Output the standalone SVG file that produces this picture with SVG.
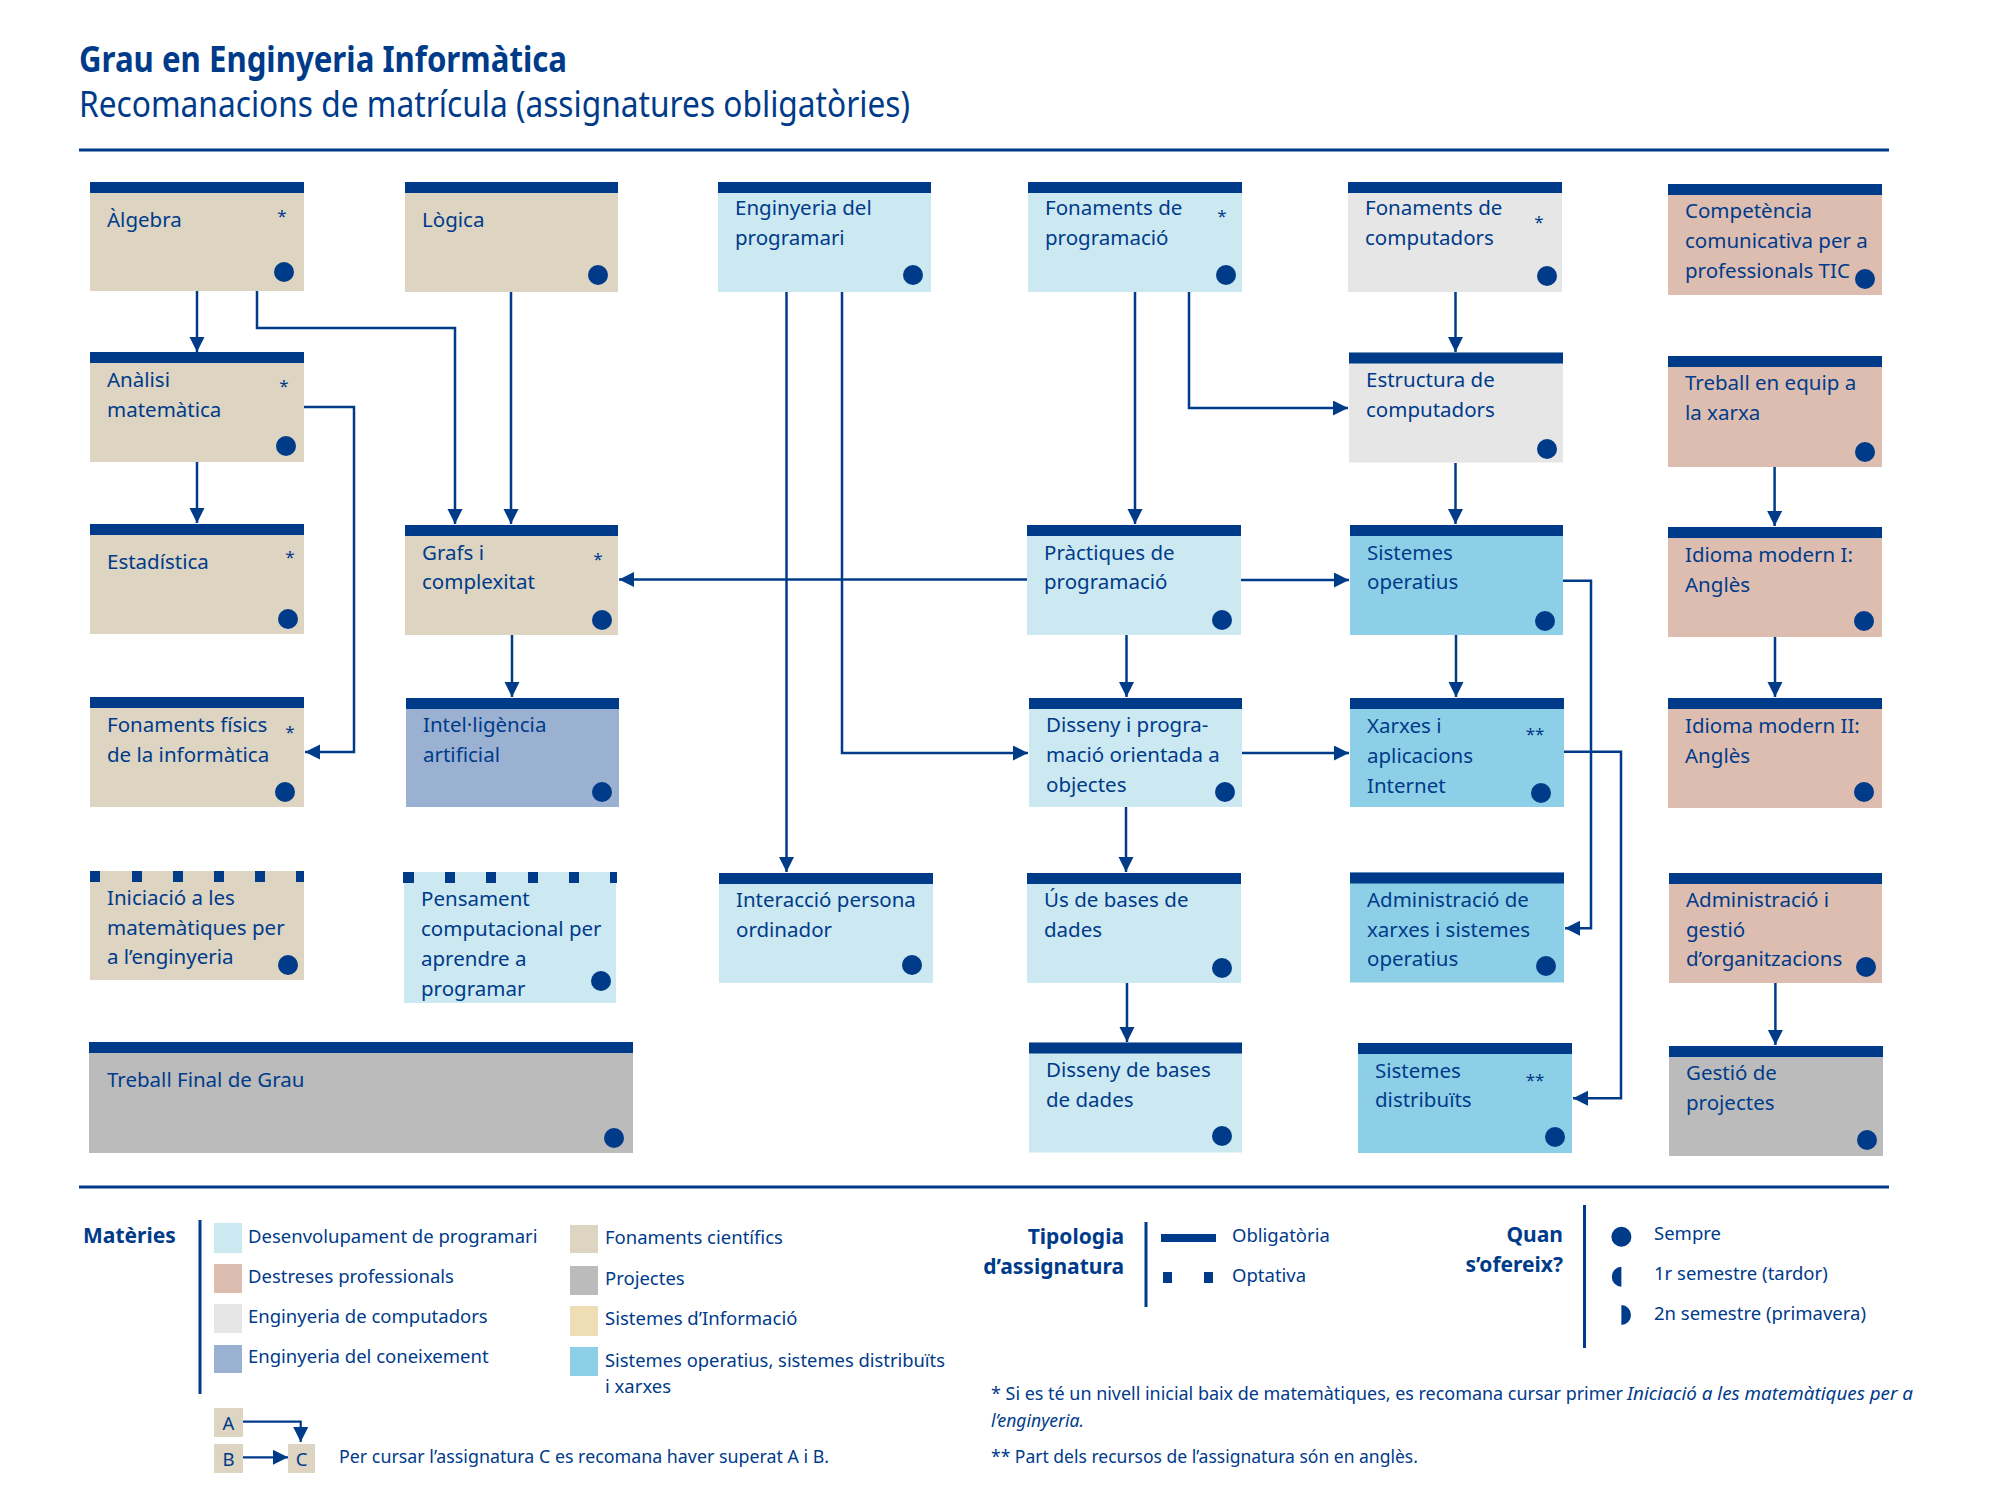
<svg xmlns="http://www.w3.org/2000/svg" width="2000" height="1500" viewBox="0 0 2000 1500">
<style>
.bg{fill:#ffffff}
.bar{fill:#003b8a}
.dot{fill:#003b8a}
.fci{fill:#ddd4c1}
.dpr{fill:#cce8f1}
.dst{fill:#ddbdb0}
.eco{fill:#e6e6e6}
.eck{fill:#9bb1d1}
.prj{fill:#bbbbbb}
.sin{fill:#eeddb5}
.sop{fill:#8dcfe6}
text{font-family:"Noto Sans","Liberation Sans",sans-serif;fill:#003b8a}
.t{font-size:20.5px}
.ast{font-size:17px;text-anchor:middle}
.lg{font-size:18.5px}
.lb{font-size:21px;font-weight:bold}
.fn{font-size:17.5px}
.it{font-style:italic}
.c{fill:none;stroke:#003b8a;stroke-width:2.5;marker-end:url(#ah)}
.ln{fill:none;stroke:#003b8a;stroke-width:3}
</style>
<defs>
<marker id="ah" markerUnits="userSpaceOnUse" markerWidth="16" markerHeight="16" refX="15" refY="7.5" orient="auto"><path d="M0,0 L15,7.5 L0,15 z" fill="#003b8a"/></marker>
</defs>
<rect class="bg" x="0" y="0" width="2000" height="1500"/>

<g id="header">
<text x="79" y="72" style="font-size:36px;font-weight:bold;font-stretch:condensed" textLength="488" lengthAdjust="spacingAndGlyphs">Grau en Enginyeria Informàtica</text>
<text x="79" y="117" style="font-size:36px;font-stretch:condensed" textLength="831" lengthAdjust="spacingAndGlyphs">Recomanacions de matrícula (assignatures obligatòries)</text>
<line class="ln" x1="79" y1="150" x2="1889" y2="150"/>
</g>

<g id="connectors">
<path class="c" d="M197,291 V352"/>
<path class="c" d="M257,291 V328 H455 V524"/>
<path class="c" d="M511,292 V524"/>
<path class="c" d="M197,462 V523"/>
<path class="c" d="M304,407 H354 V752 H305"/>
<path class="c" d="M512,635 V697"/>
<path class="c" d="M1027,579.5 H619"/>
<path class="c" d="M786.5,292 V872"/>
<path class="c" d="M842,292 V753 H1028"/>
<path class="c" d="M1135,292 V524"/>
<path class="c" d="M1189,292 V408 H1348"/>
<path class="c" d="M1455.5,292 V352"/>
<path class="c" d="M1455.5,463 V524"/>
<path class="c" d="M1241,580 H1349"/>
<path class="c" d="M1126.5,635 V697"/>
<path class="c" d="M1242,753 H1349"/>
<path class="c" d="M1126,807 V872"/>
<path class="c" d="M1127,983 V1042"/>
<path class="c" d="M1456,635 V697"/>
<path class="c" d="M1559,580.7 H1591 V928.3 H1565"/>
<path class="c" d="M1563,751.7 H1621 V1098.3 H1573"/>
<path class="c" d="M1774.6,467 V526"/>
<path class="c" d="M1775,637 V697"/>
<path class="c" d="M1775.4,983 V1045"/>
</g>

<g id="n-algebra">
<rect class="fci" x="90" y="182" width="214" height="109"/><rect class="bar" x="90" y="182" width="214" height="11"/>
<text class="t" x="107" y="227">Àlgebra</text><text class="ast" x="282" y="222">*</text>
<circle class="dot" cx="284" cy="272" r="10"/>
</g>
<g id="n-logica">
<rect class="fci" x="405" y="182" width="213" height="110"/><rect class="bar" x="405" y="182" width="213" height="11"/>
<text class="t" x="422" y="227">Lògica</text>
<circle class="dot" cx="598" cy="275" r="10"/>
</g>
<g id="n-enginyeria-programari">
<rect class="dpr" x="718" y="182" width="213" height="110"/><rect class="bar" x="718" y="182" width="213" height="11"/>
<text class="t" x="735" y="215">Enginyeria del<tspan x="735" dy="30">programari</tspan></text>
<circle class="dot" cx="913" cy="275" r="10"/>
</g>
<g id="n-fonaments-programacio">
<rect class="dpr" x="1028" y="182" width="214" height="110"/><rect class="bar" x="1028" y="182" width="214" height="11"/>
<text class="t" x="1045" y="215">Fonaments de<tspan x="1045" dy="30">programació</tspan></text><text class="ast" x="1222" y="222">*</text>
<circle class="dot" cx="1226" cy="275" r="10"/>
</g>
<g id="n-fonaments-computadors">
<rect class="eco" x="1348" y="182" width="214" height="110"/><rect class="bar" x="1348" y="182" width="214" height="11"/>
<text class="t" x="1365" y="215">Fonaments de<tspan x="1365" dy="30">computadors</tspan></text><text class="ast" x="1539" y="228">*</text>
<circle class="dot" cx="1547" cy="276" r="10"/>
</g>
<g id="n-competencia">
<rect class="dst" x="1668" y="184" width="214" height="111"/><rect class="bar" x="1668" y="184" width="214" height="11"/>
<text class="t" x="1685" y="218">Competència<tspan x="1685" dy="30">comunicativa per a</tspan><tspan x="1685" dy="30">professionals TIC</tspan></text>
<circle class="dot" cx="1865" cy="279" r="10"/>
</g>

<g id="n-analisi">
<rect class="fci" x="90" y="352" width="214" height="110"/><rect class="bar" x="90" y="352" width="214" height="11"/>
<text class="t" x="107" y="387">Anàlisi<tspan x="107" dy="30">matemàtica</tspan></text><text class="ast" x="284" y="392">*</text>
<circle class="dot" cx="286" cy="446" r="10"/>
</g>
<g id="n-estructura-computadors">
<rect class="eco" x="1349" y="352.5" width="214" height="110"/><rect class="bar" x="1349" y="352.5" width="214" height="11"/>
<text class="t" x="1366" y="387">Estructura de<tspan x="1366" dy="30">computadors</tspan></text>
<circle class="dot" cx="1547" cy="449" r="10"/>
</g>
<g id="n-treball-equip">
<rect class="dst" x="1668" y="356" width="214" height="111"/><rect class="bar" x="1668" y="356" width="214" height="11"/>
<text class="t" x="1685" y="390">Treball en equip a<tspan x="1685" dy="30">la xarxa</tspan></text>
<circle class="dot" cx="1865" cy="452" r="10"/>
</g>

<g id="n-estadistica">
<rect class="fci" x="90" y="524" width="214" height="110"/><rect class="bar" x="90" y="524" width="214" height="11"/>
<text class="t" x="107" y="569">Estadística</text><text class="ast" x="290" y="563">*</text>
<circle class="dot" cx="288" cy="619" r="10"/>
</g>
<g id="n-grafs">
<rect class="fci" x="405" y="525" width="213" height="110"/><rect class="bar" x="405" y="525" width="213" height="11"/>
<text class="t" x="422" y="560">Grafs i<tspan x="422" dy="29">complexitat</tspan></text><text class="ast" x="598" y="565">*</text>
<circle class="dot" cx="602" cy="620" r="10"/>
</g>
<g id="n-practiques">
<rect class="dpr" x="1027" y="525" width="214" height="110"/><rect class="bar" x="1027" y="525" width="214" height="11"/>
<text class="t" x="1044" y="560">Pràctiques de<tspan x="1044" dy="29">programació</tspan></text>
<circle class="dot" cx="1222" cy="620" r="10"/>
</g>
<g id="n-sistemes-operatius">
<rect class="sop" x="1350" y="525" width="213" height="110"/><rect class="bar" x="1350" y="525" width="213" height="11"/>
<text class="t" x="1367" y="560">Sistemes<tspan x="1367" dy="29">operatius</tspan></text>
<circle class="dot" cx="1545" cy="621" r="10"/>
</g>
<g id="n-idioma-1">
<rect class="dst" x="1668" y="527" width="214" height="110"/><rect class="bar" x="1668" y="527" width="214" height="11"/>
<text class="t" x="1685" y="562">Idioma modern I:<tspan x="1685" dy="30">Anglès</tspan></text>
<circle class="dot" cx="1864" cy="621" r="10"/>
</g>

<g id="n-fonaments-fisics">
<rect class="fci" x="90" y="697" width="214" height="110"/><rect class="bar" x="90" y="697" width="214" height="11"/>
<text class="t" x="107" y="732">Fonaments físics<tspan x="107" dy="30">de la informàtica</tspan></text><text class="ast" x="290" y="738">*</text>
<circle class="dot" cx="285" cy="792" r="10"/>
</g>
<g id="n-intelligencia">
<rect class="eck" x="406" y="698" width="213" height="109"/><rect class="bar" x="406" y="698" width="213" height="11"/>
<text class="t" x="423" y="732">Intel·ligència<tspan x="423" dy="30">artificial</tspan></text>
<circle class="dot" cx="602" cy="792" r="10"/>
</g>
<g id="n-dpoo">
<rect class="dpr" x="1029" y="698" width="213" height="109"/><rect class="bar" x="1029" y="698" width="213" height="11"/>
<text class="t" x="1046" y="732">Disseny i progra-<tspan x="1046" dy="30">mació orientada a</tspan><tspan x="1046" dy="30">objectes</tspan></text>
<circle class="dot" cx="1225" cy="792" r="10"/>
</g>
<g id="n-xarxes">
<rect class="sop" x="1350" y="698" width="214" height="109"/><rect class="bar" x="1350" y="698" width="214" height="11"/>
<text class="t" x="1367" y="733">Xarxes i<tspan x="1367" dy="30">aplicacions</tspan><tspan x="1367" dy="30">Internet</tspan></text><text class="ast" x="1535" y="740">**</text>
<circle class="dot" cx="1541" cy="793" r="10"/>
</g>
<g id="n-idioma-2">
<rect class="dst" x="1668" y="698" width="214" height="110"/><rect class="bar" x="1668" y="698" width="214" height="11"/>
<text class="t" x="1685" y="733">Idioma modern II:<tspan x="1685" dy="30">Anglès</tspan></text>
<circle class="dot" cx="1864" cy="792" r="10"/>
</g>

<g id="n-iniciacio">
<rect class="fci" x="90" y="871" width="214" height="109"/>
<rect class="bar" x="90" y="871" width="10" height="11"/><rect class="bar" x="132" y="871" width="10" height="11"/><rect class="bar" x="173" y="871" width="10" height="11"/><rect class="bar" x="214" y="871" width="10" height="11"/><rect class="bar" x="255" y="871" width="10" height="11"/><rect class="bar" x="296" y="871" width="8" height="11"/>
<text class="t" x="107" y="905">Iniciació a les<tspan x="107" dy="30">matemàtiques per</tspan><tspan x="107" dy="29">a l’enginyeria</tspan></text>
<circle class="dot" cx="288" cy="965" r="10"/>
</g>
<g id="n-pensament">
<rect class="dpr" x="404" y="872" width="212" height="131"/>
<rect class="bar" x="403" y="872" width="11" height="11"/><rect class="bar" x="445" y="872" width="10" height="11"/><rect class="bar" x="486" y="872" width="10" height="11"/><rect class="bar" x="528" y="872" width="10" height="11"/><rect class="bar" x="569" y="872" width="10" height="11"/><rect class="bar" x="610" y="872" width="7" height="11"/>
<text class="t" x="421" y="906">Pensament<tspan x="421" dy="30">computacional per</tspan><tspan x="421" dy="30">aprendre a</tspan><tspan x="421" dy="30">programar</tspan></text>
<circle class="dot" cx="601" cy="981" r="10"/>
</g>
<g id="n-interaccio">
<rect class="dpr" x="719" y="873" width="214" height="110"/><rect class="bar" x="719" y="873" width="214" height="11"/>
<text class="t" x="736" y="907">Interacció persona<tspan x="736" dy="30">ordinador</tspan></text>
<circle class="dot" cx="912" cy="965" r="10"/>
</g>
<g id="n-us-bd">
<rect class="dpr" x="1027" y="873" width="214" height="110"/><rect class="bar" x="1027" y="873" width="214" height="11"/>
<text class="t" x="1044" y="907">Ús de bases de<tspan x="1044" dy="30">dades</tspan></text>
<circle class="dot" cx="1222" cy="968" r="10"/>
</g>
<g id="n-admin-xarxes">
<rect class="sop" x="1350" y="872.5" width="214" height="110"/><rect class="bar" x="1350" y="872.5" width="214" height="11"/>
<text class="t" x="1367" y="907">Administració de<tspan x="1367" dy="30">xarxes i sistemes</tspan><tspan x="1367" dy="29">operatius</tspan></text>
<circle class="dot" cx="1546" cy="966" r="10"/>
</g>
<g id="n-admin-organitzacions">
<rect class="dst" x="1669" y="873" width="213" height="110"/><rect class="bar" x="1669" y="873" width="213" height="11"/>
<text class="t" x="1686" y="907">Administració i<tspan x="1686" dy="30">gestió</tspan><tspan x="1686" dy="29">d’organitzacions</tspan></text>
<circle class="dot" cx="1866" cy="967" r="10"/>
</g>

<g id="n-tfg">
<rect class="prj" x="89" y="1042" width="544" height="111"/><rect class="bar" x="89" y="1042" width="544" height="11"/>
<text class="t" x="107" y="1087">Treball Final de Grau</text>
<circle class="dot" cx="614" cy="1138" r="10"/>
</g>
<g id="n-disseny-bd">
<rect class="dpr" x="1029" y="1042.5" width="213" height="110"/><rect class="bar" x="1029" y="1042.5" width="213" height="11"/>
<text class="t" x="1046" y="1077">Disseny de bases<tspan x="1046" dy="30">de dades</tspan></text>
<circle class="dot" cx="1222" cy="1136" r="10"/>
</g>
<g id="n-sistemes-distribuits">
<rect class="sop" x="1358" y="1043" width="214" height="110"/><rect class="bar" x="1358" y="1043" width="214" height="11"/>
<text class="t" x="1375" y="1078">Sistemes<tspan x="1375" dy="29">distribuïts</tspan></text><text class="ast" x="1535" y="1086">**</text>
<circle class="dot" cx="1555" cy="1137" r="10"/>
</g>
<g id="n-gestio-projectes">
<rect class="prj" x="1669" y="1046" width="214" height="110"/><rect class="bar" x="1669" y="1046" width="214" height="11"/>
<text class="t" x="1686" y="1080">Gestió de<tspan x="1686" dy="30">projectes</tspan></text>
<circle class="dot" cx="1867" cy="1140" r="10"/>
</g>

<g id="legend">
<line class="ln" x1="79" y1="1187" x2="1889" y2="1187"/>
<text class="lb" x="83" y="1243">Matèries</text>
<line class="ln" x1="200" y1="1220" x2="200" y2="1394"/>
<rect class="dpr" x="214" y="1223" width="28" height="30"/>
<rect class="dst" x="214" y="1264" width="28" height="29"/>
<rect class="eco" x="214" y="1304" width="28" height="29"/>
<rect class="eck" x="214" y="1345" width="28" height="28"/>
<text class="lg" x="248" y="1243">Desenvolupament de programari</text>
<text class="lg" x="248" y="1283">Destreses professionals</text>
<text class="lg" x="248" y="1323">Enginyeria de computadors</text>
<text class="lg" x="248" y="1363">Enginyeria del coneixement</text>
<rect class="fci" x="570" y="1225" width="28" height="28"/>
<rect class="prj" x="570" y="1266" width="28" height="29"/>
<rect class="sin" x="570" y="1306" width="28" height="30"/>
<rect class="sop" x="570" y="1347" width="28" height="29"/>
<text class="lg" x="605" y="1244">Fonaments científics</text>
<text class="lg" x="605" y="1285">Projectes</text>
<text class="lg" x="605" y="1325">Sistemes d’Informació</text>
<text class="lg" x="605" y="1367" textLength="340" lengthAdjust="spacingAndGlyphs">Sistemes operatius, sistemes distribuïts</text>
<text class="lg" x="605" y="1393">i xarxes</text>

<rect class="fci" x="214" y="1408" width="29" height="29"/>
<rect class="fci" x="214" y="1444" width="29" height="29"/>
<rect class="fci" x="288" y="1444" width="27" height="29"/>
<text class="lg" x="228.5" y="1430" text-anchor="middle">A</text>
<text class="lg" x="228.5" y="1466" text-anchor="middle">B</text>
<text class="lg" x="301.5" y="1466" text-anchor="middle">C</text>
<path class="c" d="M243,1421.7 H300.7 V1442" style="stroke-width:2.2"/>
<path class="c" d="M243,1457.3 H288" style="stroke-width:2.2"/>
<text class="lg" x="339" y="1463" textLength="490" lengthAdjust="spacingAndGlyphs">Per cursar l’assignatura C es recomana haver superat A i B.</text>

<text class="lb" x="1124" y="1244" text-anchor="end">Tipologia</text>
<text class="lb" x="1124" y="1274" text-anchor="end">d’assignatura</text>
<line class="ln" x1="1146" y1="1222" x2="1146" y2="1307"/>
<rect class="bar" x="1161" y="1234" width="55" height="8"/>
<rect class="bar" x="1163" y="1272" width="9" height="11"/>
<rect class="bar" x="1204" y="1272" width="9" height="11"/>
<text class="lg" x="1232" y="1242">Obligatòria</text>
<text class="lg" x="1232" y="1282">Optativa</text>

<text class="lb" x="1563" y="1242" text-anchor="end">Quan</text>
<text class="lb" x="1563" y="1272" text-anchor="end">s’ofereix?</text>
<line class="ln" x1="1584.5" y1="1205" x2="1584.5" y2="1348"/>
<circle class="dot" cx="1621.4" cy="1236.7" r="10"/>
<path class="dot" d="M1621.4,1266.7 A9.6,10 0 0 0 1621.4,1286.7 Z"/>
<path class="dot" d="M1621.4,1305 A9.6,10 0 0 1 1621.4,1325 Z"/>
<text class="lg" x="1654" y="1240">Sempre</text>
<text class="lg" x="1654" y="1280">1r semestre (tardor)</text>
<text class="lg" x="1654" y="1320">2n semestre (primavera)</text>

<text class="fn" x="991" y="1400" textLength="632" lengthAdjust="spacingAndGlyphs">* Si es té un nivell inicial baix de matemàtiques, es recomana cursar primer</text>
<text class="fn it" x="1627" y="1400" textLength="286" lengthAdjust="spacingAndGlyphs">Iniciació a les matemàtiques per a</text>
<text class="fn it" x="991" y="1427">l’enginyeria.</text>
<text class="fn" x="991" y="1463">** Part dels recursos de l’assignatura són en anglès.</text>
</g>
</svg>
